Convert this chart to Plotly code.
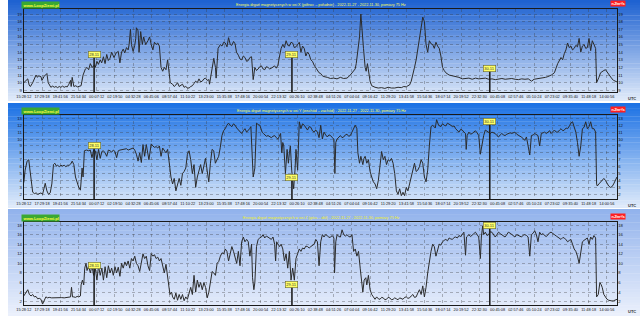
import plotly.graph_objects as go

W, H = 640, 316

# ---------------- data ----------------
TICK_TEXT = ["15:28:12", "17:29:18", "19:41:56", "21:54:34", "00:07:12", "02:19:50", "04:32:28",
             "06:45:06", "08:57:44", "11:10:22", "13:23:00", "15:35:38", "17:48:16", "20:00:54",
             "22:13:32", "00:26:10", "02:38:48", "04:51:26", "07:04:04", "09:16:42", "11:29:20",
             "13:41:58", "15:54:36", "18:07:14", "20:19:52", "22:32:30", "00:45:08", "02:57:46",
             "05:10:24", "07:23:02", "09:35:40", "11:48:18", "14:00:56"]
TICK_STEP_H = 7958 / 3600.0  # 2:12:38 between labels

DAY_LABELS = ["28.11", "29.11", "30.11"]
DAY_HOURS = [8.53, 32.53, 56.53]  # midnights, hours after 15:28:12
DAY_BOX_X = [13.7, 13.7, 11.8]
DAY_BOX_Y = [9.1, 4.4, 12.5]
DAY_BOX_Z = [9.6, 5.5, 18.0]

X_DATA = [(0.0,10.0),(0.25,10.3),(0.48,10.5),(0.65,9.7),(0.8,9.5),(1.08,10.0),(1.3,10.6),(1.48,11.0),(1.65,10.7),(1.8,10.9),(2.08,10.8),(2.2,10.3),(2.45,10.8),(2.68,11.0),(2.8,11.2),(2.96,10.0),(3.1,9.7),(3.28,9.4),(3.5,9.55),(3.7,9.4),(3.9,9.5),(4.1,9.35),(4.3,9.5),(4.5,9.4),(4.7,9.55),(4.9,9.4),(5.1,9.5),(5.27,9.45),(5.47,9.8),(5.67,10.3),(5.75,9.5),(5.87,10.7),(6.07,9.5),(6.3,9.6),(6.5,9.45),(6.7,9.55),(6.95,9.6),(7.19,11.0),(7.35,11.5),(7.47,11.8),(7.67,12.0),(7.87,11.7),(8.07,12.5),(8.3,12.0),(8.55,12.3),(8.67,12.0),(8.87,12.8),(9.05,12.4),(9.27,13.0),(9.45,12.6),(9.66,13.4),(9.86,12.5),(10.06,13.7),(10.25,12.9),(10.46,13.2),(10.66,14.0),(10.94,13.3),(11.2,13.9),(11.46,14.1),(11.66,12.6),(11.86,14.0),(12.06,14.4),(12.25,13.9),(12.46,14.6),(12.66,14.3),(12.78,15.0),(12.94,17.0),(13.06,15.0),(13.26,14.1),(13.46,14.9),(13.58,15.8),(13.66,17.2),(13.86,16.8),(13.98,14.0),(14.18,16.7),(14.38,15.0),(14.54,16.0),(14.78,15.0),(15.06,15.5),(15.26,16.0),(15.46,15.0),(15.66,14.3),(15.85,15.3),(16.05,15.0),(16.25,15.2),(16.45,14.8),(16.65,12.0),(16.85,11.5),(17.05,12.0),(17.25,11.7),(17.45,13.0),(17.65,11.5),(17.77,10.0),(18.05,9.8),(18.25,9.5),(18.45,9.7),(18.65,10.0),(18.85,9.5),(19.05,9.6),(19.25,9.8),(19.45,9.4),(19.65,9.5),(19.85,9.3),(20.05,9.3),(20.25,9.5),(20.45,9.6),(20.65,9.9),(20.85,10.2),(21.05,10.0),(21.25,10.5),(21.45,10.1),(21.65,10.2),(21.85,10.5),(22.05,10.6),(22.25,10.3),(22.45,10.4),(22.53,9.8),(22.73,11.0),(22.9,12.0),(23.05,13.2),(23.25,12.0),(23.33,10.6),(23.57,14.5),(23.85,15.0),(24.04,14.8),(24.25,15.3),(24.44,15.2),(24.65,14.7),(24.84,15.9),(25.05,15.0),(25.24,14.9),(25.45,15.4),(25.63,15.1),(25.8,14.0),(26.03,13.6),(26.23,13.1),(26.43,13.0),(26.63,13.5),(26.83,13.3),(27.03,12.8),(27.23,12.9),(27.43,13.3),(27.63,13.4),(27.75,11.5),(27.83,10.4),(28.03,12.0),(28.23,11.6),(28.43,11.8),(28.63,12.1),(28.83,12.2),(29.03,11.8),(29.23,11.7),(29.43,12.1),(29.63,12.0),(29.83,11.8),(30.03,11.9),(30.23,12.1),(30.43,12.2),(30.63,11.9),(30.83,12.3),(31.03,13.5),(31.22,14.5),(31.42,15.0),(31.62,14.6),(31.82,15.5),(32.02,14.9),(32.22,14.8),(32.42,15.3),(32.62,15.2),(32.82,14.6),(33.02,14.7),(33.22,15.1),(33.42,15.3),(33.62,14.0),(33.82,14.8),(34.02,14.5),(34.22,13.5),(34.42,14.0),(34.62,13.7),(34.82,13.0),(35.02,12.8),(35.22,12.3),(35.42,11.9),(35.62,11.5),(35.82,11.3),(36.02,11.2),(36.22,10.9),(36.42,10.8),(36.62,10.7),(36.82,10.7),(37.2,10.55),(37.6,10.6),(38.0,10.5),(38.4,10.7),(38.8,10.55),(39.21,10.6),(39.61,11.0),(40.01,11.5),(40.2,11.8),(40.33,12.5),(40.53,14.0),(40.73,16.0),(40.89,19.0),(41.05,16.0),(41.21,14.5),(41.41,12.0),(41.53,11.5),(41.69,12.5),(41.85,11.3),(42.01,10.2),(42.21,9.6),(42.41,9.45),(42.61,9.4),(43.0,9.3),(43.4,9.35),(43.8,9.25),(44.2,9.4),(44.6,9.3),(45.0,9.3),(45.4,9.4),(45.8,9.35),(46.1,9.5),(46.4,9.45),(46.6,9.6),(46.8,9.7),(47.0,10.2),(47.2,11.0),(47.4,12.0),(47.6,13.0),(47.76,14.2),(47.92,15.0),(48.05,16.2),(48.2,17.5),(48.4,18.6),(48.6,18.0),(48.8,15.0),(49.0,14.0),(49.2,15.5),(49.4,15.1),(49.6,15.0),(49.8,14.5),(50.0,15.3),(50.2,14.8),(50.4,14.5),(50.6,13.5),(50.8,12.0),(51.0,11.6),(51.2,11.3),(51.6,11.0),(52.0,10.9),(52.4,10.8),(52.79,10.7),(53.19,10.5),(53.6,10.6),(54.0,10.6),(54.4,10.45),(54.8,10.6),(55.2,10.5),(55.6,10.55),(56.0,10.6),(56.4,10.45),(56.8,10.5),(57.2,10.4),(57.6,10.5),(58.0,10.55),(58.4,10.45),(58.8,10.5),(59.2,10.55),(59.6,10.45),(60.0,10.4),(60.4,10.5),(60.8,10.45),(61.2,10.5),(61.6,10.2),(61.9,10.45),(62.2,10.5),(62.6,10.55),(63.0,10.6),(63.3,10.7),(63.58,10.8),(64.0,11.0),(64.37,11.3),(64.77,12.5),(65.17,13.3),(65.37,13.0),(65.57,13.8),(65.77,14.3),(65.97,15.2),(66.17,14.6),(66.37,14.8),(66.57,14.3),(66.77,14.5),(66.97,14.9),(67.17,14.7),(67.37,15.8),(67.57,14.0),(67.77,14.8),(67.97,15.0),(68.17,14.5),(68.37,14.6),(68.57,15.8),(68.77,14.2),(68.97,15.5),(69.17,15.0),(69.37,14.5),(69.49,10.0),(69.6,10.4),(69.77,10.7),(69.97,11.3),(70.17,11.5),(70.37,11.6),(70.57,11.7),(70.76,11.4),(70.96,11.0),(71.16,10.8),(71.36,10.5),(71.56,10.3),(71.76,10.2),(71.96,10.1)]

Y_DATA = [(0.0,3.7),(0.16,5.5),(0.4,6.8),(0.6,7.0),(0.72,5.8),(0.88,3.8),(1.08,2.3),(1.3,2.1),(1.5,2.2),(1.7,2.0),(1.9,2.15),(2.08,2.2),(2.28,2.0),(2.48,3.2),(2.6,3.6),(2.8,2.5),(3.0,2.0),(3.2,2.2),(3.4,3.5),(3.6,6.3),(3.76,6.5),(3.95,6.1),(4.1,6.2),(4.3,6.0),(4.5,6.2),(4.7,6.1),(4.9,6.2),(5.1,6.0),(5.3,6.2),(5.5,6.2),(5.7,6.4),(5.87,6.8),(6.07,6.3),(6.27,4.5),(6.47,3.7),(6.67,3.0),(6.87,2.6),(7.07,5.8),(7.19,4.5),(7.35,8.3),(7.6,8.4),(7.87,8.3),(8.07,8.4),(8.27,7.3),(8.47,8.4),(8.67,8.3),(8.87,7.0),(9.07,8.5),(9.27,7.2),(9.47,8.2),(9.66,8.3),(9.86,8.0),(10.06,7.5),(10.26,8.4),(10.46,8.3),(10.66,8.1),(10.86,8.4),(11.06,8.2),(11.26,7.3),(11.46,8.3),(11.66,8.4),(12.06,8.5),(12.46,8.6),(12.66,8.4),(12.86,8.5),(13.06,8.6),(13.26,8.7),(13.46,8.4),(13.66,7.8),(13.86,6.8),(14.06,8.0),(14.26,6.6),(14.46,9.2),(14.66,7.5),(14.86,9.2),(15.18,7.0),(15.46,9.3),(15.66,9.0),(15.85,8.8),(16.05,8.9),(16.25,8.7),(16.45,9.0),(16.65,7.5),(16.85,8.7),(17.05,8.3),(17.25,8.0),(17.45,8.5),(17.65,6.5),(17.85,4.5),(18.05,3.5),(18.25,4.3),(18.45,2.5),(18.65,3.3),(18.85,4.3),(19.05,3.3),(19.25,5.0),(19.45,5.3),(19.65,5.8),(19.85,7.8),(20.05,8.3),(20.25,7.0),(20.45,5.0),(20.65,6.3),(20.85,3.0),(21.05,4.5),(21.25,5.5),(21.45,6.3),(21.65,5.0),(21.85,6.0),(22.04,7.2),(22.24,5.5),(22.44,3.8),(22.64,6.5),(22.84,8.5),(23.04,8.3),(23.24,6.5),(23.44,7.0),(23.64,7.5),(23.84,8.8),(24.04,10.5),(24.24,11.2),(24.44,11.5),(24.64,12.0),(24.84,12.3),(25.04,12.0),(25.24,11.8),(25.44,12.2),(25.63,12.0),(25.83,11.6),(26.03,11.3),(26.23,11.0),(26.43,10.8),(26.63,11.2),(26.83,11.5),(27.03,11.0),(27.23,11.2),(27.4,11.5),(27.55,11.8),(27.71,8.5),(27.83,4.5),(28.03,5.8),(28.11,10.0),(28.23,12.3),(28.43,12.1),(28.63,12.0),(28.78,11.5),(28.91,11.0),(29.07,10.8),(29.23,10.6),(29.43,10.4),(29.63,10.5),(29.83,10.3),(30.03,10.2),(30.23,10.4),(30.43,10.5),(30.63,10.2),(30.83,10.0),(31.0,10.4),(31.15,10.8),(31.3,8.0),(31.42,9.5),(31.54,9.0),(31.74,5.0),(31.94,8.5),(32.1,6.5),(32.22,8.0),(32.34,9.0),(32.5,5.5),(32.62,4.2),(32.74,2.8),(32.9,5.5),(33.02,8.5),(33.22,5.5),(33.42,12.5),(33.62,11.5),(33.82,12.2),(34.02,12.0),(34.22,11.6),(34.42,11.3),(34.62,11.8),(34.82,11.7),(35.02,11.2),(35.22,11.0),(35.42,11.3),(35.62,11.0),(35.82,10.2),(36.02,12.0),(36.22,10.0),(36.42,11.0),(36.62,10.6),(36.82,10.3),(37.02,10.6),(37.22,10.5),(37.42,10.2),(37.62,10.0),(37.74,5.0),(37.85,9.5),(38.01,10.0),(38.21,10.3),(38.41,10.5),(38.61,10.2),(38.81,10.3),(39.01,10.6),(39.21,10.7),(39.41,10.4),(39.61,10.5),(39.81,11.0),(40.01,11.5),(40.21,12.0),(40.41,11.5),(40.53,8.0),(40.73,6.5),(40.89,7.5),(41.13,6.3),(41.27,7.2),(41.41,7.5),(41.61,6.5),(41.81,7.0),(42.01,5.3),(42.21,4.5),(42.41,3.8),(42.61,3.5),(42.81,2.8),(43.01,4.0),(43.21,6.0),(43.41,8.2),(43.61,7.0),(43.81,7.5),(44.0,6.3),(44.2,7.0),(44.4,6.8),(44.6,7.2),(44.8,6.5),(45.0,5.0),(45.2,2.5),(45.4,2.0),(45.6,2.8),(45.8,1.8),(46.0,2.3),(46.2,1.8),(46.4,3.0),(46.6,2.5),(46.8,3.5),(47.0,4.5),(47.2,5.5),(47.4,6.5),(47.6,5.3),(47.8,5.5),(48.0,6.0),(48.2,7.0),(48.4,6.5),(48.6,4.5),(48.8,3.8),(49.0,5.5),(49.2,9.0),(49.4,11.8),(49.6,12.0),(49.8,11.7),(49.92,11.6),(50.08,12.8),(50.2,12.3),(50.32,12.0),(50.6,11.8),(50.8,12.2),(51.0,12.0),(51.2,11.9),(51.4,12.3),(51.6,12.2),(51.8,12.0),(52.0,11.8),(52.2,11.9),(52.39,11.5),(52.6,11.3),(52.79,11.0),(53.0,11.4),(53.19,11.3),(53.4,11.0),(53.59,10.8),(53.67,8.5),(53.79,10.5),(53.99,11.0),(54.2,10.7),(54.39,10.8),(54.6,11.0),(54.79,11.2),(55.0,10.9),(55.19,10.5),(55.39,7.8),(55.59,9.5),(55.79,10.5),(55.99,11.3),(56.2,11.1),(56.39,11.0),(56.6,10.8),(56.79,11.0),(57.0,10.9),(57.19,10.8),(57.4,10.5),(57.59,10.3),(57.8,10.6),(57.98,10.8),(58.2,10.6),(58.38,10.5),(58.6,10.7),(58.78,10.8),(59.0,10.9),(59.18,10.8),(59.4,10.9),(59.58,11.0),(59.8,10.7),(59.98,10.5),(60.2,10.4),(60.38,10.3),(60.6,10.0),(60.78,9.8),(60.98,10.3),(61.18,9.0),(61.38,7.7),(61.58,10.5),(61.8,10.6),(61.98,10.8),(62.2,10.6),(62.38,10.5),(62.58,9.0),(62.78,10.8),(63.0,10.9),(63.18,11.0),(63.4,10.8),(63.58,11.0),(63.8,11.2),(63.97,10.8),(64.2,11.1),(64.37,11.3),(64.6,11.0),(64.77,11.0),(65.0,11.3),(65.17,11.5),(65.4,11.2),(65.57,11.3),(65.8,11.6),(65.97,11.5),(66.2,11.9),(66.37,12.3),(66.57,12.5),(66.77,11.8),(66.97,11.0),(67.17,9.5),(67.37,7.5),(67.57,9.0),(67.77,11.5),(67.97,11.7),(68.17,12.5),(68.37,11.5),(68.57,11.8),(68.77,12.5),(68.97,11.5),(69.17,11.5),(69.37,11.0),(69.49,3.5),(69.57,3.2),(69.77,3.5),(69.97,3.8),(70.17,4.1),(70.37,4.3),(70.57,4.0),(70.76,3.5),(70.96,3.2),(71.16,3.0),(71.36,3.1),(71.56,3.5),(71.76,4.0),(71.96,4.5)]

Z_DATA = [(0.0,3.2),(0.24,4.0),(0.48,4.5),(0.68,3.5),(0.88,3.2),(1.08,3.5),(1.28,3.0),(1.48,3.1),(1.68,2.6),(1.88,2.7),(2.08,2.5),(2.28,1.5),(2.48,2.3),(2.68,3.0),(2.88,2.8),(3.08,2.9),(3.38,2.8),(3.68,2.85),(4.0,2.75),(4.3,2.8),(4.6,2.85),(4.9,2.8),(5.27,2.9),(5.5,2.85),(5.67,3.0),(5.79,5.0),(5.91,3.0),(6.07,3.0),(6.27,2.9),(6.47,3.1),(6.67,3.0),(6.87,3.2),(6.95,5.5),(7.11,6.5),(7.27,5.5),(7.39,9.0),(7.55,10.0),(7.67,8.5),(7.87,9.5),(8.07,8.0),(8.27,9.5),(8.47,7.5),(8.67,9.0),(8.87,6.5),(9.07,9.5),(9.27,7.5),(9.47,9.0),(9.66,6.5),(9.86,9.3),(10.06,7.0),(10.26,9.5),(10.46,8.0),(10.66,9.0),(10.86,7.5),(11.06,9.3),(11.26,8.0),(11.46,9.2),(11.66,7.3),(11.86,10.0),(12.06,9.0),(12.26,10.3),(12.46,9.5),(12.66,10.5),(12.86,9.0),(13.06,11.0),(13.26,10.5),(13.46,11.5),(13.66,10.0),(13.86,9.5),(14.06,8.3),(14.26,10.5),(14.46,12.0),(14.66,11.0),(14.86,11.5),(15.06,9.5),(15.26,8.5),(15.46,12.0),(15.66,11.5),(15.85,11.8),(16.05,11.0),(16.25,11.3),(16.45,10.5),(16.65,11.0),(16.85,9.5),(17.05,8.0),(17.25,9.8),(17.45,7.0),(17.57,4.5),(17.73,3.5),(17.93,4.0),(18.05,3.0),(18.25,2.5),(18.45,3.8),(18.65,2.3),(18.85,3.5),(19.05,2.5),(19.25,3.5),(19.45,2.2),(19.65,3.0),(19.85,2.5),(20.05,3.8),(20.25,5.0),(20.45,3.5),(20.65,7.5),(20.85,4.0),(21.05,6.5),(21.25,5.0),(21.45,6.0),(21.65,4.5),(21.85,6.0),(22.05,5.0),(22.25,2.8),(22.45,4.0),(22.65,6.5),(22.85,8.3),(23.05,8.0),(23.25,7.5),(23.45,10.0),(23.65,10.4),(23.85,11.5),(24.05,12.2),(24.25,12.0),(24.44,13.0),(24.64,12.5),(24.84,10.5),(25.04,12.0),(25.24,13.5),(25.44,12.5),(25.63,11.5),(25.83,10.0),(26.03,12.5),(26.23,9.5),(26.43,14.5),(26.63,15.5),(26.83,14.5),(27.03,15.0),(27.23,14.5),(27.43,11.5),(27.63,14.0),(27.75,7.0),(27.91,4.5),(28.03,6.0),(28.23,13.5),(28.43,15.0),(28.63,15.3),(28.83,15.5),(29.03,16.0),(29.23,15.3),(29.43,15.7),(29.63,15.5),(29.83,15.2),(30.03,15.0),(30.23,15.5),(30.43,14.0),(30.55,10.5),(30.67,14.5),(30.85,14.0),(31.03,13.5),(31.22,14.0),(31.42,13.0),(31.62,10.5),(31.82,12.0),(32.02,9.0),(32.22,12.5),(32.42,6.5),(32.62,9.0),(32.82,6.5),(33.02,11.0),(33.22,12.0),(33.42,13.0),(33.62,12.5),(33.82,13.2),(34.02,13.0),(34.22,13.6),(34.42,13.5),(34.62,13.2),(34.82,13.5),(35.02,13.8),(35.22,14.0),(35.42,15.0),(35.62,14.5),(35.82,9.5),(36.02,14.5),(36.22,16.0),(36.42,15.5),(36.62,16.0),(36.82,15.8),(37.02,15.4),(37.22,15.5),(37.42,15.8),(37.62,15.3),(37.7,8.0),(37.85,14.5),(38.01,16.0),(38.21,15.6),(38.41,15.5),(38.61,17.0),(38.81,16.0),(39.01,15.7),(39.21,16.0),(39.41,15.6),(39.61,15.5),(39.81,16.0),(40.01,12.5),(40.21,13.0),(40.41,11.5),(40.61,12.5),(40.81,9.0),(41.01,5.5),(41.13,4.0),(41.29,6.5),(41.49,7.0),(41.61,5.5),(41.81,7.5),(42.01,4.5),(42.21,3.5),(42.41,3.0),(42.61,2.5),(42.81,3.0),(43.01,2.6),(43.21,2.5),(43.41,2.9),(43.61,2.8),(43.81,2.4),(44.0,2.5),(44.2,2.9),(44.4,2.8),(44.6,2.4),(44.8,2.5),(45.0,2.8),(45.2,2.6),(45.4,2.4),(45.6,2.8),(45.8,2.6),(46.0,2.5),(46.2,2.9),(46.4,3.0),(46.6,2.7),(46.8,2.8),(47.0,3.2),(47.2,3.5),(47.4,2.9),(47.6,3.0),(47.8,3.8),(48.0,4.5),(48.2,3.5),(48.4,5.3),(48.6,3.0),(48.8,5.0),(49.0,8.0),(49.2,10.5),(49.4,12.5),(49.6,14.0),(49.8,13.5),(50.0,11.5),(50.2,13.0),(50.4,14.0),(50.6,13.8),(50.8,14.5),(51.0,14.8),(51.2,15.0),(51.4,14.7),(51.6,15.3),(51.8,15.1),(52.0,15.0),(52.2,15.4),(52.39,15.5),(52.6,15.3),(52.79,15.8),(53.0,15.6),(53.19,16.0),(53.39,16.5),(53.59,11.7),(53.71,15.5),(53.85,15.7),(53.99,16.0),(54.2,15.6),(54.39,15.8),(54.6,16.2),(54.79,16.5),(55.0,16.0),(55.19,15.5),(55.39,11.0),(55.51,15.5),(55.67,17.8),(55.79,16.0),(55.99,16.5),(56.2,15.8),(56.39,16.0),(56.6,16.6),(56.79,16.5),(57.0,15.9),(57.19,15.5),(57.4,16.0),(57.59,16.5),(57.8,16.2),(57.98,16.0),(58.2,15.8),(58.38,15.5),(58.6,16.0),(58.78,16.5),(59.0,16.3),(59.18,16.0),(59.4,15.7),(59.58,15.5),(59.8,16.0),(59.98,15.8),(60.2,15.6),(60.38,15.5),(60.6,15.9),(60.78,16.0),(61.0,15.8),(61.18,15.5),(61.38,11.5),(61.58,16.0),(61.8,16.3),(61.98,16.8),(62.18,16.0),(62.38,14.5),(62.58,16.5),(62.78,16.0),(63.0,16.2),(63.18,15.8),(63.4,15.6),(63.58,16.0),(63.8,16.4),(63.97,16.5),(64.2,16.1),(64.37,16.0),(64.6,15.7),(64.77,15.5),(65.0,15.2),(65.17,15.0),(65.4,15.4),(65.57,15.3),(65.8,14.9),(65.97,14.5),(66.2,14.8),(66.37,15.0),(66.57,14.0),(66.77,13.0),(66.97,12.5),(67.17,11.5),(67.37,10.0),(67.57,12.5),(67.77,14.5),(67.97,14.8),(68.17,15.0),(68.37,15.3),(68.57,14.0),(68.77,15.5),(68.97,15.0),(69.17,15.8),(69.37,15.3),(69.49,3.0),(69.69,3.5),(69.89,6.0),(70.03,5.6),(70.17,5.0),(70.37,3.5),(70.57,2.9),(70.76,2.5),(70.96,2.3),(71.16,2.2),(71.36,2.15),(71.56,2.2),(71.76,2.3),(71.96,2.5)]

TITLES = [
    "Energia drgań magnetycznych w osi X (północ – południe) - 2022-11-27 - 2022-11-30, pomiary 75 Hz",
    "Energia drgań magnetycznych w osi Y (wschód – zachód) - 2022-11-27 - 2022-11-30, pomiary 75 Hz",
    "Energia drgań magnetycznych w osi Z (góra – dół) - 2022-11-27 - 2022-11-30, pomiary 75 Hz",
]
SITE = "www.LoopZiemi.pl"
UNIT = "nJ/m²/s"

# ---------------- layout geometry (pixels) ----------------
FONT = "Liberation Sans, Arial, sans-serif"
X_L, X_R = 16, 617
panels = [
    dict(data=X_DATA, boxes=DAY_BOX_X, top=9.3, bot=92.3, rng=[8.74, 19.62], dtick=1,
         bg=(0, 101, (28, 96, 208), (226, 236, 250)), title_y=5, title_col="#ffff55"),
    dict(data=Y_DATA, boxes=DAY_BOX_Y, top=115, bot=199, rng=[1.32, 13.48], dtick=1,
         bg=(103, 208, (25, 112, 228), (226, 236, 250)), title_y=111, title_col="#ffff55"),
    dict(data=Z_DATA, boxes=DAY_BOX_Z, top=222, bot=305, rng=[1.31, 18.63], dtick=2,
         bg=(209, 316, (145, 178, 236), (236, 241, 252)), title_y=217.5, title_col="#f0f020"),
]

def py(px):
    return 1 - px / H

fig = go.Figure()
shapes = []
annotations = []
layout = dict(width=W, height=H, margin=dict(l=0, r=0, t=0, b=0), autosize=False,
              paper_bgcolor="white", plot_bgcolor="rgba(0,0,0,0)", showlegend=False,
              font=dict(family=FONT, size=4, color="#1a1a1a"))

tick_vals = [i * TICK_STEP_H for i in range(len(TICK_TEXT))]
grid = dict(showgrid=True, gridcolor="rgba(60,60,60,0.35)", griddash="dot", gridwidth=0.6)
ytickfont = dict(family=FONT, size=4.2, color="#141414")
xtickfont = dict(family=FONT, size=3.9, color="#141414")

for k, p in enumerate(panels):
    n = k + 1
    xa = "x" if n == 1 else f"x{n}"
    ya = "y" if n == 1 else f"y{n}"
    yr = f"y{n + 3}"
    xkey = "xaxis" if n == 1 else f"xaxis{n}"
    ykey = "yaxis" if n == 1 else f"yaxis{n}"
    yrkey = f"yaxis{n + 3}"
    dom_y = [py(p["bot"]), py(p["top"])]

    layout[xkey] = dict(domain=[X_L / W, X_R / W], range=[0, 72], anchor=ya,
                        tickmode="array", tickvals=tick_vals, ticktext=TICK_TEXT,
                        tickangle=0, tickfont=xtickfont, ticks="", zeroline=False,
                        showline=True, mirror=True, linecolor="#1a1a1a", linewidth=1, **grid)
    layout[ykey] = dict(domain=dom_y, range=p["rng"], anchor=xa, tickmode="linear",
                        tick0=0, dtick=p["dtick"], tickfont=ytickfont, ticks="",
                        zeroline=False, showline=True, mirror=True, linecolor="#1a1a1a",
                        linewidth=1, **grid)
    layout[yrkey] = dict(overlaying=ya, side="right", anchor=xa, range=p["rng"],
                         tickmode="linear", tick0=0, dtick=p["dtick"], tickfont=ytickfont,
                         ticks="", showgrid=False, zeroline=False, showline=False)

    hx = [d[0] for d in p["data"]]
    hv = [d[1] for d in p["data"]]
    fig.add_trace(go.Scatter(x=hx, y=hv, mode="lines", xaxis=xa, yaxis=ya,
                             line=dict(color="#2b2b2b", width=1), hoverinfo="skip"))

    # day markers
    mx, my = [], []
    for h, v in zip(DAY_HOURS, p["boxes"]):
        mx += [h, h, None]
        my += [p["rng"][0], v, None]
    fig.add_trace(go.Scatter(x=mx, y=my, mode="lines", xaxis=xa, yaxis=yr,
                             line=dict(color="#1e1e1e", width=1.6), hoverinfo="skip"))
    for h, v, lab in zip(DAY_HOURS, p["boxes"], DAY_LABELS):
        annotations.append(dict(x=h, y=v, xref=xa, yref=yr, text=lab, showarrow=False,
                                font=dict(family=FONT, size=4, color="#333333"),
                                bgcolor="#ffff66", bordercolor="#666633", borderwidth=0.6,
                                borderpad=0.6))

    # background gradient
    top_px, bot_px, c0, c1 = p["bg"]
    nb = 40
    for i in range(nb):
        t = (i + 0.5) / nb
        col = "rgb(%d,%d,%d)" % tuple(round(c0[j] + (c1[j] - c0[j]) * t) for j in range(3))
        y0 = top_px + (bot_px - top_px) * i / nb
        y1 = top_px + (bot_px - top_px) * (i + 1) / nb + 0.4
        shapes.append(dict(type="rect", xref="paper", yref="paper", x0=0, x1=1,
                           y0=py(min(y1, bot_px)), y1=py(y0), fillcolor=col,
                           line=dict(width=0), layer="below"))

    # texts
    annotations.append(dict(x=317 / W, y=py(p["title_y"]), xref="paper", yref="paper",
                            text=TITLES[k], showarrow=False, xanchor="center", yanchor="middle",
                            font=dict(family=FONT, size=3.8, color=p["title_col"])))
    annotations.append(dict(x=33 / W, y=py(p["title_y"]), xref="paper", yref="paper",
                            text="<b>" + SITE + "</b>", showarrow=False, xanchor="center",
                            yanchor="middle", bgcolor="#3aa832", borderpad=0.6,
                            font=dict(family=FONT, size=4, color="#ffff40")))
    annotations.append(dict(x=618 / W, y=py(p["title_y"] - 1.5), xref="paper", yref="paper",
                            text="<b>" + UNIT + "</b>", showarrow=False, xanchor="center",
                            yanchor="middle", bgcolor="#ff1f1f", borderpad=0.6,
                            font=dict(family=FONT, size=3.8, color="white")))
    annotations.append(dict(x=632 / W, y=py(p["bot"] + 6.5), xref="paper", yref="paper",
                            text="<b>UTC</b>", showarrow=False, xanchor="center",
                            yanchor="middle", font=dict(family=FONT, size=4, color="#333333")))

layout["shapes"] = shapes
layout["annotations"] = annotations
fig.update_layout(**layout)
fig.write_html("out.html")
